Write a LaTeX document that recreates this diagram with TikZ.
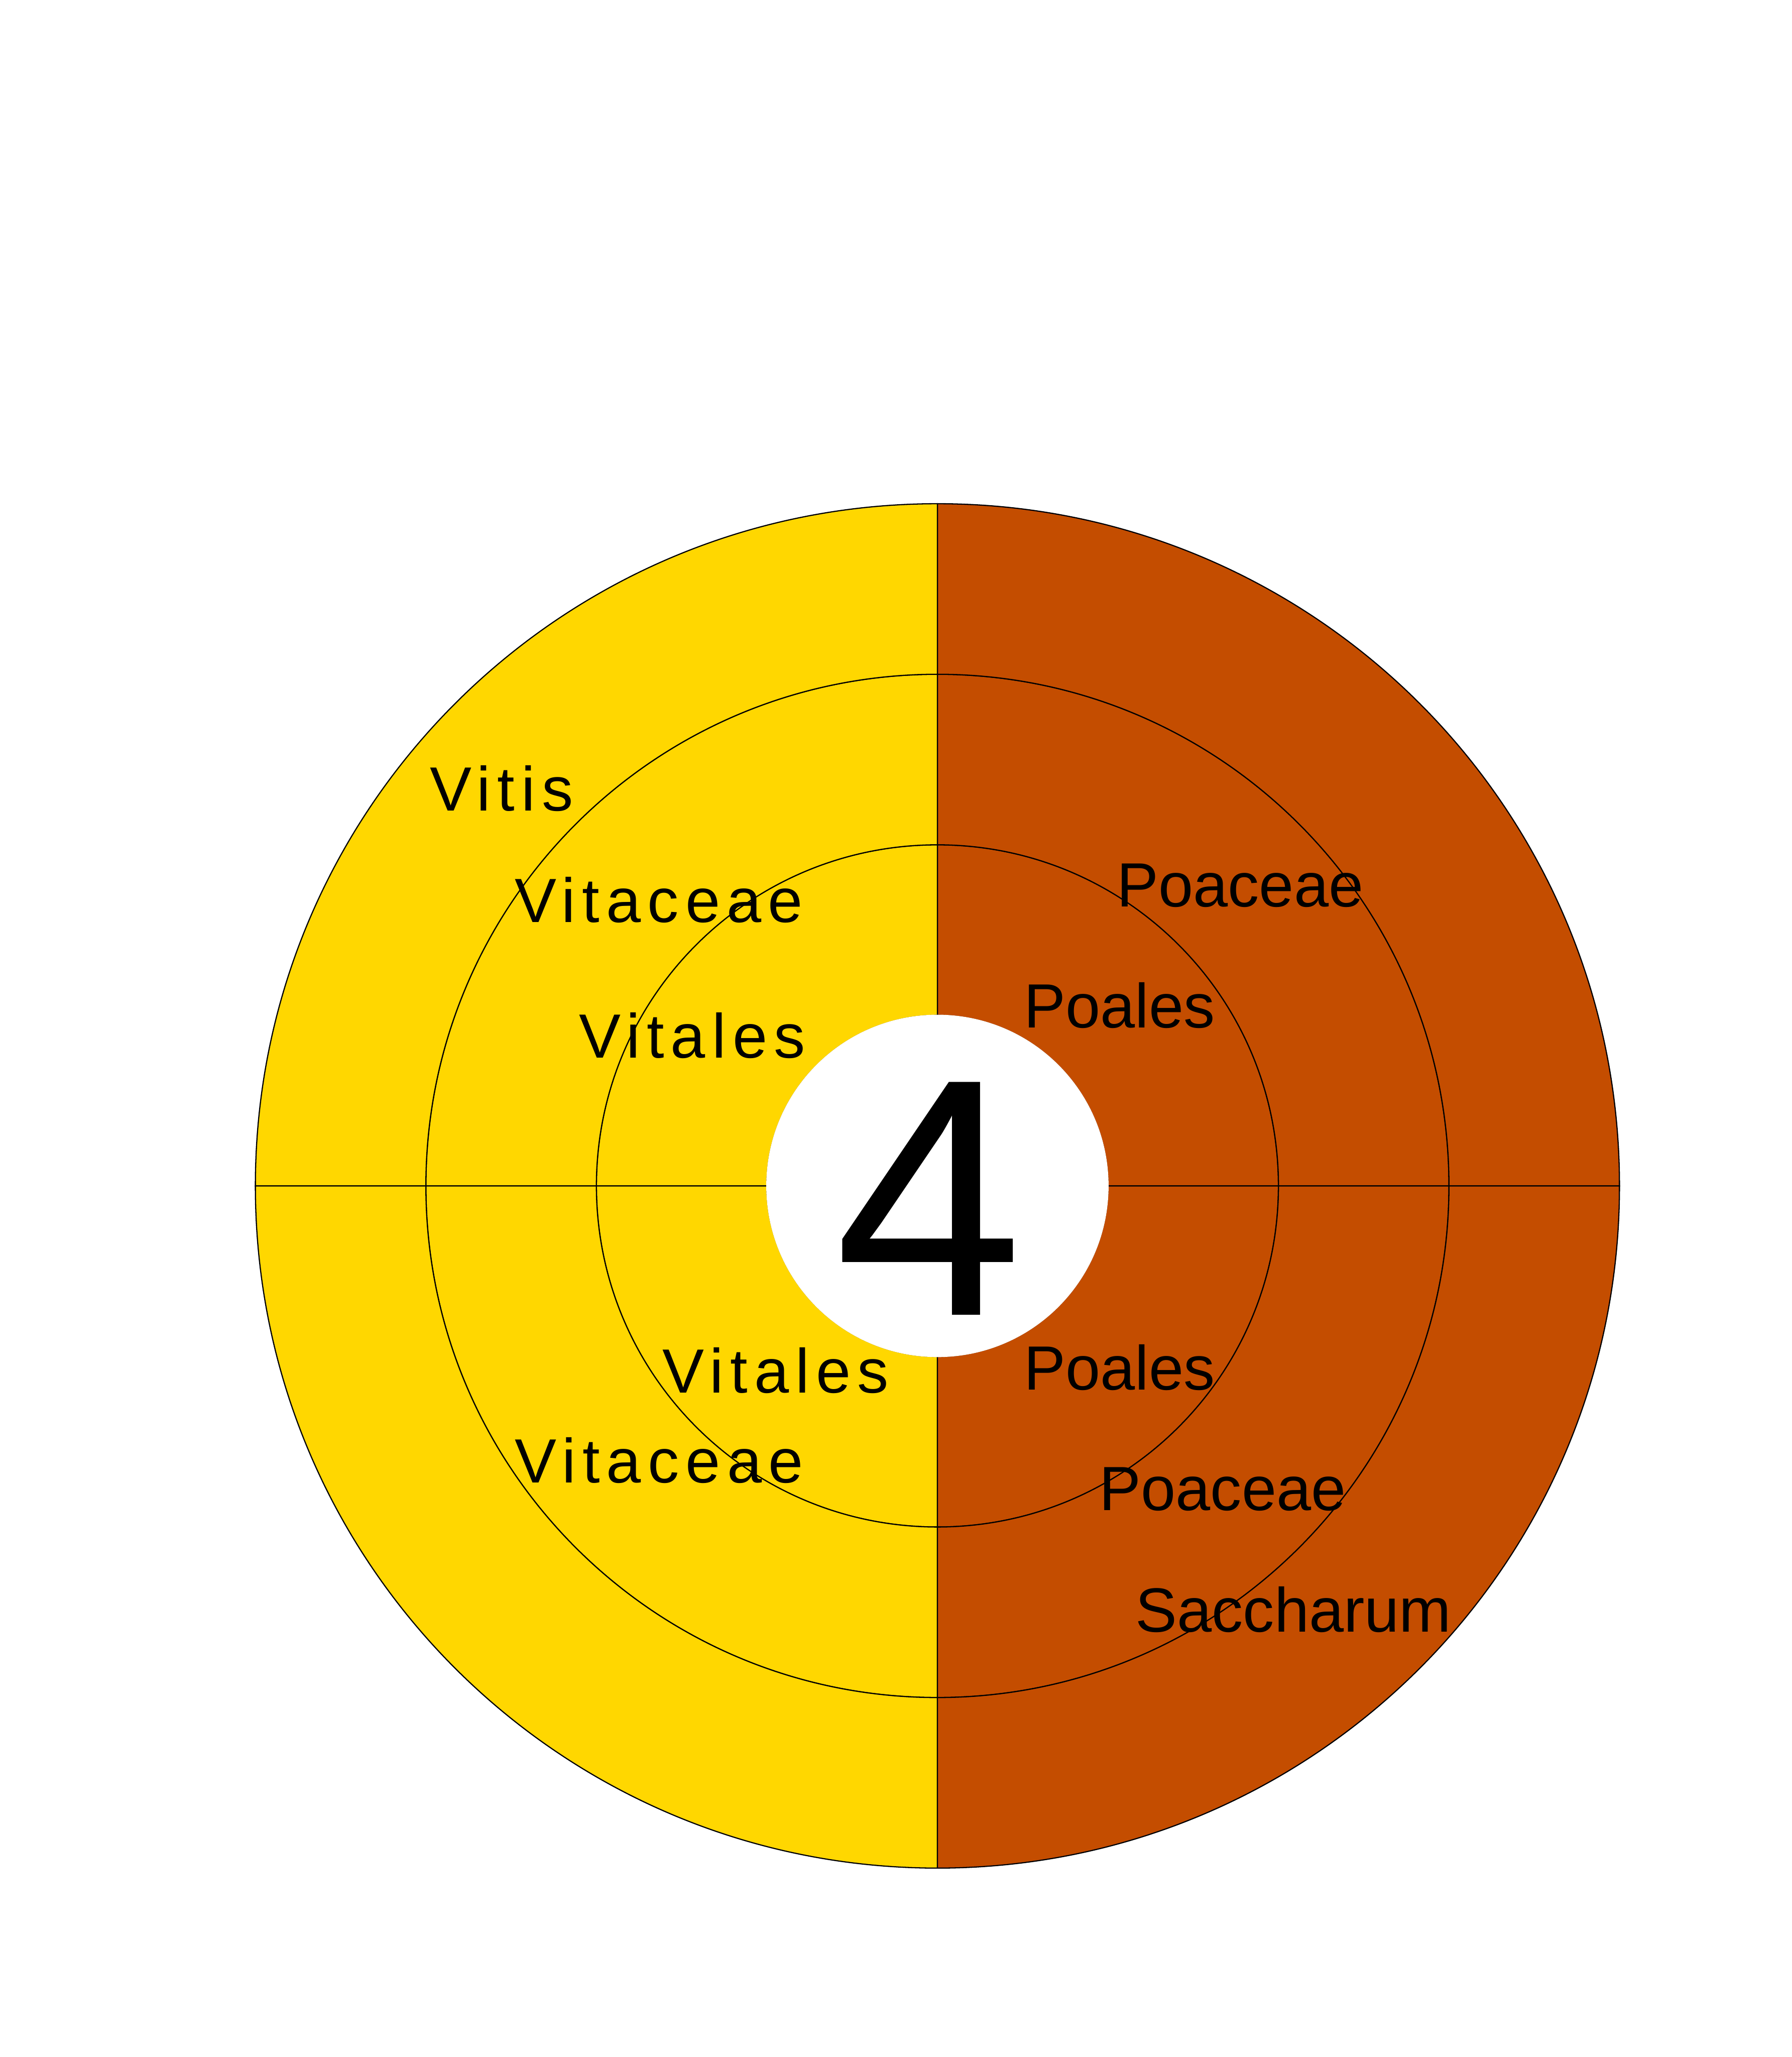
\documentclass[tikz,border=0pt]{standalone}
\usepackage{fontspec}
\setmainfont{Liberation Sans}
\newfontfamily\spacedfont[LetterSpace=10.6]{Liberation Sans}
\usepackage{xcolor}
\definecolor{vitisgold}{RGB}{255,215,0}
\definecolor{poarust}{RGB}{196,77,0}

\begin{document}
\begin{tikzpicture}[
    sector/.style={draw=black, line width=0.25pt},
    rightlabel/.style={anchor=base west, inner sep=0pt, font=\fontsize{13.55pt}{16pt}\selectfont},
    leftlabel/.style={anchor=base west, inner sep=0pt, font=\spacedfont\fontsize{13.55pt}{16pt}\selectfont}
  ]
  \useasboundingbox (0,0) rectangle (13.66,15.68);
  \coordinate (centre) at (7.147,6.64);

  % Rings: quadrant start angle / colour, then inner radius of each ring
  \begin{scope}[shift={(centre)}]
    \foreach \a/\col in {0/poarust, 90/vitisgold, 180/vitisgold, 270/poarust} {
      \foreach \r in {1.3, 2.6, 3.9} {
        \filldraw[sector, fill=\col] (\a:\r) arc[start angle=\a, end angle=\a+90, radius=\r]
          -- (\a+90:\r+1.3) arc[start angle=\a+90, end angle=\a, radius=\r+1.3] -- cycle;
      }
    }
    % Centre hole
    \fill[white] (0,0) circle (1.305);
  \end{scope}

  % Number in the middle
  \node[anchor=base, inner sep=0pt, text depth=0pt, font=\fontsize{73.4pt}{80pt}\selectfont] (count) at (7.08,5.657) {4};

  % Upper left (Vitis)
  \node[leftlabel] (vitis) at (3.27,9.50) {Vitis};
  \node[leftlabel] (vitaceaeA) at (3.917,8.648) {Vitaceae};
  \node[leftlabel] (vitalesA) at (4.409,7.615) {Vitales};

  % Upper right
  \node[rightlabel] (poaceaeA) at (8.508,8.769) {Poaceae};
  \node[rightlabel] (poalesA) at (7.80,7.846) {Poales};

  % Lower left
  \node[leftlabel] (vitalesB) at (5.046,5.064) {Vitales};
  \node[leftlabel] (vitaceaeB) at (3.919,4.379) {Vitaceae};

  % Lower right (Saccharum)
  \node[rightlabel] (poalesB) at (7.80,5.087) {Poales};
  \node[rightlabel] (poaceaeB) at (8.375,4.166) {Poaceae};
  \node[rightlabel] (saccharum) at (8.65,3.24) {Saccharum};

\end{tikzpicture}
\end{document}
